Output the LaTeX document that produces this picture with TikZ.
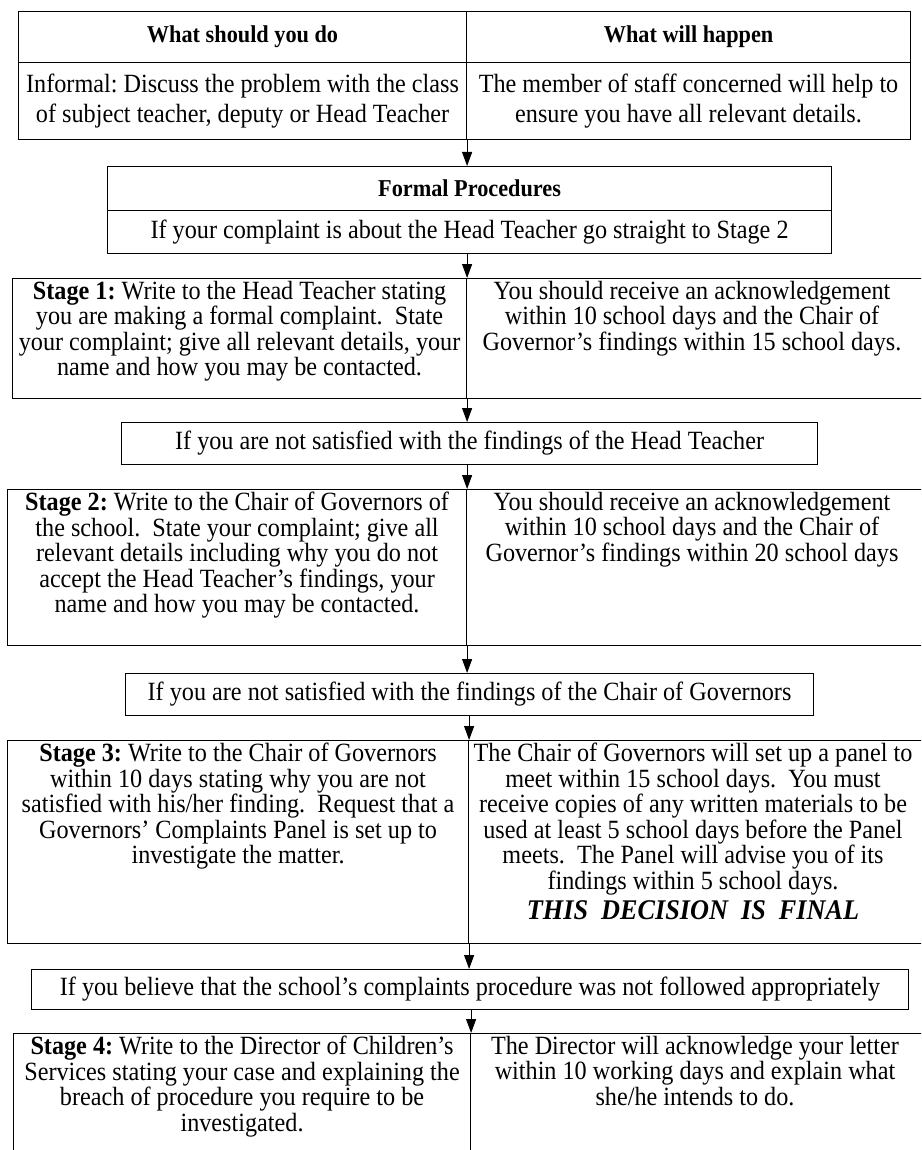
\documentclass[tikz,border=0pt]{standalone}
\usepackage{fontspec}
\setmainfont{Liberation Serif}[FakeStretch=0.92]
\usetikzlibrary{arrows.meta}
\newcommand\fs{\fontsize{26.3}{25.5}\selectfont}
\newcommand\hfs{\fontsize{24.2}{25.5}\selectfont}
\tikzset{
  cell/.style={draw, line width=1.1pt, rectangle, inner sep=0pt, anchor=north west, align=center, font=\fs},
  txt/.style={anchor=north, inner sep=0pt, align=center, font=\fs},
  arr/.style={-{Triangle[length=14pt,width=10pt]}, line width=1pt},
}
\begin{document}
\frenchspacing
\begin{tikzpicture}[x=1pt,y=-1pt]
\clip (0,0) rectangle (921,1150);
\fill[white] (0,0) rectangle (921,1150);

% header table
\node[cell, font=\hfs, minimum width=448pt, minimum height=51pt] (h1) at (18,11) {\textbf{What should you do}};
\node[cell, font=\hfs, minimum width=444pt, minimum height=51pt] (h2) at (466,11) {\textbf{What will happen}};
\node[cell, font=\fontsize{26.3}{30}\selectfont, minimum width=448pt, minimum height=77pt] (i1) at (18,62) {Informal: Discuss the problem with the class\\of subject teacher, deputy or Head Teacher};
\node[cell, font=\fontsize{26.3}{30}\selectfont, minimum width=444pt, minimum height=77pt] (i2) at (466,62) {The member of staff concerned will help to\\ensure you have all relevant details.};

% formal procedures
\node[cell, font=\hfs, minimum width=724pt, minimum height=44pt] (f1) at (107,166) {\textbf{Formal Procedures}};
\node[cell, minimum width=724pt, minimum height=43pt] (f2) at (107,210) {If your complaint is about the Head Teacher go straight to Stage 2};

% stage 1
\node[cell, minimum width=454pt, minimum height=120pt] (s1l) at (12,278) {};
\node[cell, minimum width=470pt, minimum height=120pt] (s1r) at (466,278) {};
\node[txt] (t1l) at ([yshift=-3pt]s1l.north) {\textbf{Stage 1:} Write to the Head Teacher stating\\you are making a formal complaint.~ State\\your complaint; give all relevant details, your\\name and how you may be contacted.};
\node[txt] (t1r) at (692,281) {You should receive an acknowledgement\\within 10 school days and the Chair of\\Governor’s findings within 15 school days.};

% not satisfied head teacher
\node[cell, minimum width=696pt, minimum height=42pt] (ht) at (121,422) {If you are not satisfied with the findings of the Head Teacher};

% stage 2
\node[cell, minimum width=459pt, minimum height=156pt] (s2l) at (7,489) {};
\node[cell, minimum width=470pt, minimum height=156pt] (s2r) at (466,489) {};
\node[txt] (t2l) at ([yshift=-3pt]s2l.north) {\textbf{Stage 2:} Write to the Chair of Governors of\\the school.~ State your complaint; give all\\relevant details including why you do not\\accept the Head Teacher’s findings, your\\name and how you may be contacted.};
\node[txt] (t2r) at (692,492) {You should receive an acknowledgement\\within 10 school days and the Chair of\\Governor’s findings within 20 school days};

% not satisfied chair
\node[cell, minimum width=688pt, minimum height=42pt] (ch) at (125,673) {If you are not satisfied with the findings of the Chair of Governors};

% stage 3
\node[cell, minimum width=461pt, minimum height=203pt] (s3l) at (7,740) {};
\node[cell, minimum width=470pt, minimum height=203pt] (s3r) at (468,740) {};
\node[txt] (t3l) at ([yshift=-3pt]s3l.north) {\textbf{Stage 3:} Write to the Chair of Governors\\within 10 days stating why you are not\\satisfied with his/her finding.~ Request that a\\Governors’ Complaints Panel is set up to\\investigate the matter.};
\node[txt] (t3r) at (693,743) {The Chair of Governors will set up a panel to\\meet within 15 school days.~ You must\\receive copies of any written materials to be\\used at least 5 school days before the Panel\\meets.~ The Panel will advise you of its\\findings within 5 school days.\\[5pt]{\fontsize{28.5}{31}\selectfont\bfseries\itshape THIS~ DECISION~ IS~ FINAL}};

% believe
\node[cell, minimum width=877pt, minimum height=40pt] (bl) at (31,969) {If you believe that the school’s complaints procedure was not followed appropriately};

% stage 4
\node[cell, minimum width=457pt, minimum height=140pt] (s4l) at (13,1033) {};
\node[cell, minimum width=470pt, minimum height=140pt] (s4r) at (470,1033) {};
\node[txt] (t4l) at ([yshift=-3pt]s4l.north) {\textbf{Stage 4:} Write to the Director of Children’s\\Services stating your case and explaining the\\breach of procedure you require to be\\investigated.};
\node[txt] (t4r) at (695,1036) {The Director will acknowledge your letter\\within 10 working days and explain what\\she/he intends to do.};

% arrows
\draw[arr] (i1.south east) -- (f1.north -| i1.south east);
\draw[arr] (f2.south -| s1l.north east) -- (s1l.north east);
\draw[arr] (s1l.south east) -- (ht.north -| s1l.south east);
\draw[arr] (ht.south -| s2l.north east) -- (s2l.north east);
\draw[arr] (s2l.south east) -- (ch.north -| s2l.south east);
\draw[arr] (ch.south -| s3l.north east) -- (s3l.north east);
\draw[arr] (s3l.south east) -- (bl.north -| s3l.south east);
\draw[arr] (bl.south -| s4l.north east) -- (s4l.north east);
\end{tikzpicture}
\end{document}
